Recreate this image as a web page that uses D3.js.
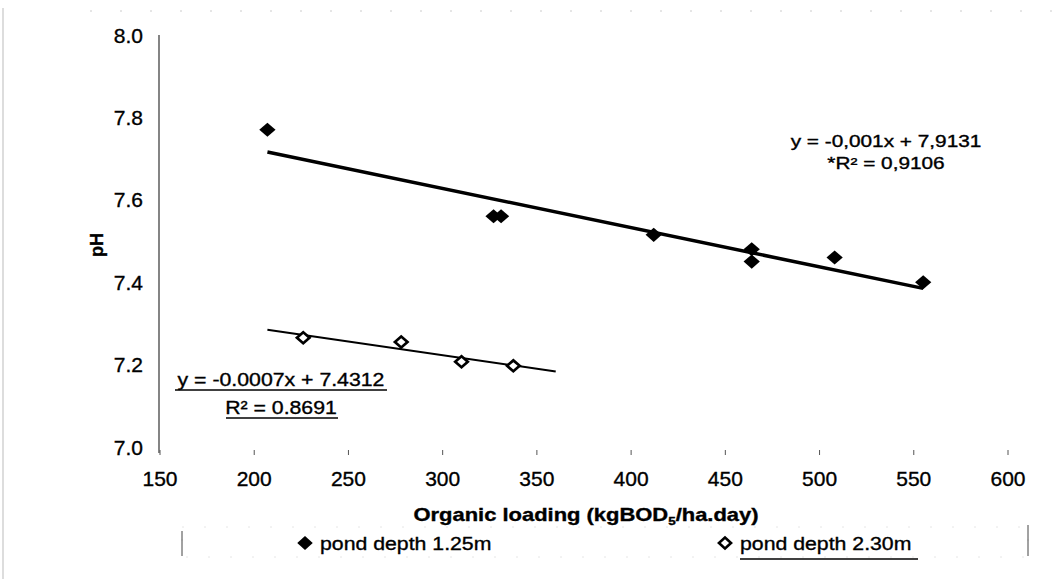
<!DOCTYPE html>
<html>
<head>
<meta charset="utf-8">
<script src="https://cdn.jsdelivr.net/npm/d3@7"></script>
<style>
  body { margin: 0; background: #fff; }
  svg text { font-family: "Liberation Sans", Arial, sans-serif; fill: #000; stroke: #000; stroke-width: 0.35; }
</style>
</head>
<body>
<svg id="chart"></svg>
<script>
// Chart size
const width = 1055;
const height = 579;

// Data: pond depth 1.25m (filled diamonds)
const shallowX = [207, 327, 331, 412, 464, 464, 508, 555];
const shallowY = [7.77, 7.56, 7.56, 7.515, 7.48, 7.45, 7.46, 7.40];

// Data: pond depth 2.30m (open diamonds)
const deepX = [226, 278, 310, 337.5];
const deepY = [7.265, 7.255, 7.207, 7.197];
const deepTrendRange = [207, 360]; // trendline drawn a bit past the points

// Axis ticks
const xTicks = [150, 200, 250, 300, 350, 400, 450, 500, 550, 600];
const yTicks = [7.0, 7.2, 7.4, 7.6, 7.8, 8.0];

// Labels
const shallowEq = ["y = -0,001x + 7,9131", "*R\u00b2 = 0,9106"];
const deepEq = ["y = -0.0007x + 7.4312", "R\u00b2 = 0.8691"];
const legendLabels = ["pond depth 1.25m", "pond depth 2.30m"];

const svg = d3.select("#chart")
    .attr("width", width)
    .attr("height", height);

// Scales
const x = d3.scaleLinear().domain([150, 600]).range([160, 1008]);
const y = d3.scaleLinear().domain([7.0, 8.0]).range([447, 35]);

// Least squares fit
function fit(xs, ys) {
    const mx = d3.mean(xs), my = d3.mean(ys);
    const sxy = d3.sum(xs, (v, i) => (v - mx) * (ys[i] - my));
    const sxx = d3.sum(xs, v => (v - mx) * (v - mx));
    const b = sxy / sxx;
    return v => my + b * (v - mx);
}

// Stretched text helper (reference text is wide)
function label(g, str, px, py, size, sx, anchor, weight) {
    return g.append("text")
        .attr("transform", `translate(${px},${py}) scale(${sx},1)`)
        .attr("text-anchor", anchor || "middle")
        .attr("font-size", size)
        .attr("font-weight", weight || "normal")
        .text(str);
}

// Scan border remnants
svg.append("line")
    .attr("x1", 3).attr("x2", 3).attr("y1", 8).attr("y2", 579)
    .attr("stroke", "#bbb").attr("stroke-width", 1);
svg.append("line")
    .attr("x1", 90).attr("x2", 1055).attr("y1", 11).attr("y2", 11)
    .attr("stroke", "#ccc").attr("stroke-dasharray", "2,28");

// Y axis line
svg.append("line")
    .attr("x1", x(150) - 1).attr("x2", x(150) - 1)
    .attr("y1", y(8.0)).attr("y2", y(7.0) + 6)
    .attr("stroke", "#333").attr("stroke-width", 1.2);

// Y tick labels
svg.append("g").selectAll("text")
    .data(yTicks)
    .enter().append("text")
    .attr("x", 143)
    .attr("y", d => y(d) + 7.5)
    .attr("text-anchor", "end")
    .attr("font-size", 21)
    .text(d => d.toFixed(1));

// X ticks and labels
const xg = svg.append("g");
xg.selectAll("line")
    .data(xTicks)
    .enter().append("line")
    .attr("x1", d => x(d)).attr("x2", d => x(d))
    .attr("y1", 450).attr("y2", 455)
    .attr("stroke", "#555").attr("stroke-width", 1);
xg.selectAll("text")
    .data(xTicks)
    .enter().append("text")
    .attr("x", d => x(d))
    .attr("y", 486)
    .attr("text-anchor", "middle")
    .attr("font-size", 21)
    .text(d => d);

// Trendlines
const fShallow = fit(shallowX, shallowY);
const sExt = d3.extent(shallowX);
svg.append("line")
    .attr("x1", x(sExt[0])).attr("y1", y(fShallow(sExt[0])))
    .attr("x2", x(sExt[1])).attr("y2", y(fShallow(sExt[1])))
    .attr("stroke", "#000").attr("stroke-width", 3.5);

const fDeep = fit(deepX, deepY);
svg.append("line")
    .attr("x1", x(deepTrendRange[0])).attr("y1", y(fDeep(deepTrendRange[0])))
    .attr("x2", x(deepTrendRange[1])).attr("y2", y(fDeep(deepTrendRange[1])))
    .attr("stroke", "#000").attr("stroke-width", 2);

// Markers
const filled = d3.symbol().type(d3.symbolSquare).size(100);
const open = d3.symbol().type(d3.symbolSquare).size(60);

svg.append("g").selectAll("path")
    .data(shallowX.map((v, i) => [v, shallowY[i]]))
    .enter().append("path")
    .attr("d", filled)
    .attr("transform", d => `translate(${x(d[0])},${y(d[1])}) scale(1.15,1) rotate(45)`)
    .attr("fill", "#000");

svg.append("g").selectAll("path")
    .data(deepX.map((v, i) => [v, deepY[i]]))
    .enter().append("path")
    .attr("d", open)
    .attr("transform", d => `translate(${x(d[0])},${y(d[1])}) scale(1.15,1) rotate(45)`)
    .attr("fill", "#fff")
    .attr("stroke", "#000")
    .attr("stroke-width", 2.5);

// Equation for 1.25m
label(svg, shallowEq[0], 886, 147, 16, 1.3);
label(svg, shallowEq[1], 886, 169, 16, 1.3);

// Equation for 2.30m (underlined)
const eq2 = svg.append("g");
label(eq2, deepEq[0], 281, 386, 18.5, 1.15);
label(eq2, deepEq[1], 281, 414, 18.5, 1.15);
eq2.append("line").attr("x1", 175).attr("x2", 387).attr("y1", 390).attr("y2", 390)
    .attr("stroke", "#000").attr("stroke-width", 1.5);
eq2.append("line").attr("x1", 226).attr("x2", 338).attr("y1", 418).attr("y2", 418)
    .attr("stroke", "#000").attr("stroke-width", 1.5);

// Axis titles
const xt = svg.append("text")
    .attr("transform", "translate(586,521) scale(1.22,1)")
    .attr("text-anchor", "middle")
    .attr("font-size", 18)
    .attr("font-weight", "bold");
xt.append("tspan").text("Organic loading (kgBOD");
xt.append("tspan").attr("font-size", 11).attr("dy", 4).text("5");
xt.append("tspan").attr("dy", -4).text("/ha.day)");

svg.append("text")
    .attr("transform", "translate(103,245) rotate(-90)")
    .attr("text-anchor", "middle")
    .attr("font-size", 18)
    .attr("font-weight", "bold")
    .text("pH");

// Legend box
const lg = svg.append("g");
lg.append("rect")
    .attr("x", 182).attr("y", 527).attr("width", 846).attr("height", 30)
    .attr("fill", "none").attr("stroke", "#e6e6e6").attr("stroke-dasharray", "2,20");
lg.append("line").attr("x1", 182).attr("x2", 182).attr("y1", 531).attr("y2", 556)
    .attr("stroke", "#444");
lg.append("line").attr("x1", 1028).attr("x2", 1028).attr("y1", 525).attr("y2", 556)
    .attr("stroke", "#444");

lg.append("path")
    .attr("d", filled)
    .attr("transform", "translate(305,543) scale(1.1,1) rotate(45)")
    .attr("fill", "#000");
label(lg, legendLabels[0], 320, 550, 18.5, 1.15, "start");

lg.append("path")
    .attr("d", open)
    .attr("transform", "translate(725,543) scale(1.1,1) rotate(45)")
    .attr("fill", "#fff").attr("stroke", "#000").attr("stroke-width", 2.5);
label(lg, legendLabels[1], 740, 550, 18.5, 1.15, "start");
lg.append("line").attr("x1", 740).attr("x2", 918).attr("y1", 559).attr("y2", 559)
    .attr("stroke", "#000").attr("stroke-width", 1.5);
</script>
</body>
</html>
